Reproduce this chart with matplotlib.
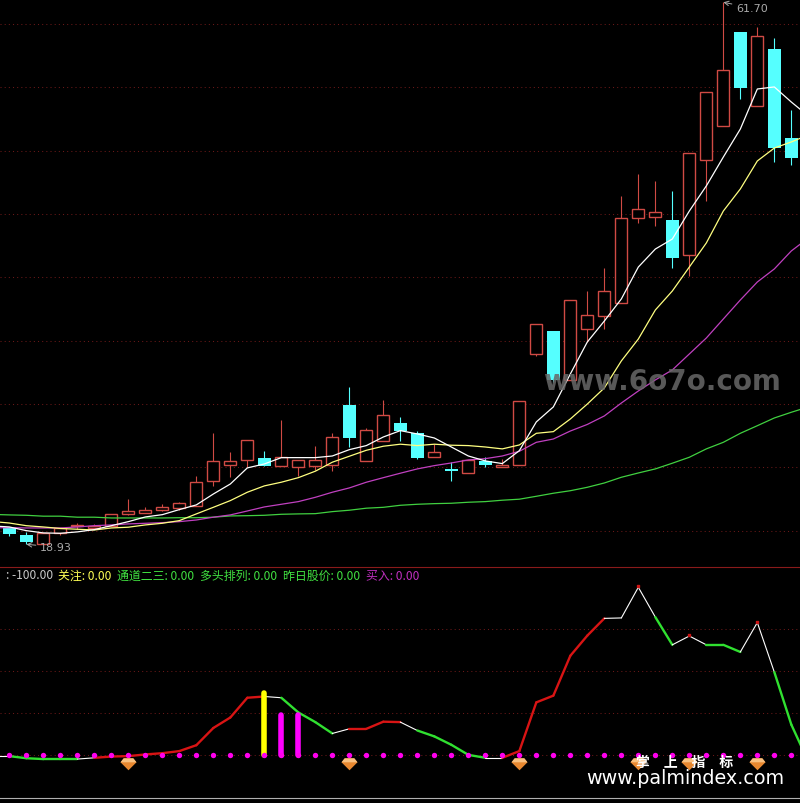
import matplotlib
matplotlib.use("Agg")
import matplotlib.pyplot as plt
from matplotlib.path import Path
import numpy as np

plt.rcParams['font.family'] = ['Noto Sans CJK SC', 'DejaVu Sans']

# daily candles
open_p = [20.22, 19.67, 18.96, 19.80, 20.40, 20.20, 20.38, 21.33, 21.41, 21.64, 21.80, 21.96,
          23.93, 25.19, 25.59, 25.74, 25.11, 25.03, 25.11, 25.19, 29.93, 25.51, 27.09, 28.51,
          27.72, 25.82, 24.88, 24.56, 25.51, 25.03, 25.19, 33.95, 35.77, 31.90, 35.92, 36.95,
          37.97, 44.68, 44.76, 44.52, 41.76, 49.26, 51.94, 59.36, 53.52, 58.01, 50.99]
close_p = [19.75, 19.12, 19.83, 20.20, 20.48, 20.38, 21.33, 21.56, 21.64, 21.88, 22.20, 23.85,
           25.51, 25.51, 27.17, 25.11, 25.82, 25.59, 25.59, 27.40, 27.32, 27.95, 29.14, 27.88,
           25.74, 26.22, 24.72, 25.59, 25.19, 25.19, 30.24, 36.32, 31.90, 38.21, 37.03, 38.92,
           44.68, 45.39, 45.15, 41.52, 49.81, 54.62, 56.36, 54.94, 59.04, 50.20, 49.41]
high_p = [20.30, 19.91, 19.83, 20.20, 20.62, 20.54, 21.33, 22.51, 21.88, 22.12, 22.27, 24.32,
          27.72, 26.22, 27.17, 26.30, 28.74, 25.59, 26.69, 27.72, 31.35, 28.11, 30.32, 28.98,
          27.88, 26.85, 25.43, 25.59, 25.82, 25.67, 30.24, 36.32, 35.77, 38.21, 38.92, 40.74,
          46.42, 48.15, 47.60, 46.81, 49.81, 54.62, 61.70, 59.36, 59.75, 58.88, 53.20]
low_p = [19.59, 18.93, 18.96, 19.67, 20.14, 20.14, 20.38, 21.25, 21.38, 21.56, 21.64, 21.96,
         23.54, 24.25, 25.03, 25.11, 25.11, 24.32, 24.80, 24.72, 26.61, 25.51, 27.09, 27.09,
         25.67, 25.82, 23.93, 24.56, 25.03, 25.03, 25.19, 33.79, 31.74, 31.90, 34.90, 35.92,
         37.97, 44.29, 44.05, 40.74, 40.10, 46.02, 51.94, 54.07, 53.52, 49.10, 48.86]

# moving averages, one value before the first candle and one after the last
ma5 = [20.38, 20.30, 20.01, 19.83, 19.80, 19.91, 20.09, 20.40, 20.72, 21.09, 21.27, 21.67,
       22.04, 22.90, 23.69, 24.96, 25.27, 25.77, 25.77, 25.77, 25.90, 26.40, 26.72, 27.40,
       27.90, 27.64, 27.32, 26.61, 25.90, 25.51, 25.30, 26.32, 28.59, 29.77, 32.37, 34.90,
       36.55, 38.29, 40.81, 42.23, 43.02, 45.23, 47.21, 49.49, 51.70, 54.86, 55.02, 53.83, 52.73]
ma10 = [20.73, 20.61, 20.40, 20.30, 20.18, 20.12, 20.06, 20.22, 20.28, 20.46, 20.59, 20.80,
        21.33, 21.85, 22.38, 23.04, 23.54, 23.83, 24.19, 24.70, 25.41, 25.88, 26.35, 26.67,
        26.83, 26.72, 26.83, 26.75, 26.72, 26.61, 26.46, 26.77, 27.69, 27.82, 28.82, 30.00,
        31.27, 33.40, 35.13, 37.42, 38.92, 40.81, 42.71, 45.23, 46.97, 49.18, 50.20, 50.68, 51.23]
ma20 = [20.22, 20.25, 20.22, 20.22, 20.22, 20.30, 20.40, 20.46, 20.54, 20.59, 20.64, 20.72,
        20.85, 21.07, 21.25, 21.56, 21.88, 22.09, 22.30, 22.64, 23.04, 23.38, 23.83, 24.19,
        24.54, 24.88, 25.14, 25.35, 25.59, 25.69, 25.90, 26.27, 26.98, 27.24, 27.87, 28.39,
        29.06, 30.08, 31.03, 31.90, 32.69, 33.95, 35.21, 36.71, 38.21, 39.63, 40.66, 42.08, 43.10]
ma60 = [21.29, 21.25, 21.22, 21.15, 21.15, 21.07, 21.07, 21.01, 21.01, 21.01, 21.01, 21.03,
        21.03, 21.07, 21.17, 21.19, 21.22, 21.30, 21.33, 21.35, 21.51, 21.62, 21.78, 21.85,
        22.01, 22.09, 22.14, 22.17, 22.25, 22.30, 22.41, 22.49, 22.72, 22.96, 23.16, 23.43,
        23.77, 24.22, 24.56, 24.88, 25.33, 25.80, 26.46, 26.98, 27.69, 28.29, 28.90, 29.35, 29.77]

# lower indicator
cci = [-102, -102, -107, -109, -109, -109, -106, -103, -102, -98, -95, -90, -76, -35, -10, 37,
       40, 37, 2, -21, -48, -37, -37, -20, -21, -41, -55, -75, -99, -106, -106, -90, 26, 42,
       137, 185, 226, 227, 300, 229, 163, 184, 163, 163, 146, 216, 98, -27, -115]
cci_state = "wggggwrrrrrrrrrrwgggwrrrwggggwrrrrrrwwwgwwggwwgg"
focus_idx = [15]
focus_top = [48]
buy_idx = [16, 17]
buy_top = [-3, -3]
gem_idx = [7, 20, 30, 37, 40, 44]
peak_idx = [37, 40, 44]
price_grid = [20, 25, 30, 35, 40, 45, 50, 55, 60]
cci_grid = [-100, 0, 100, 200]

legend_items = [(": -100.00", 6, '#c8c8c8'), ("关注: 0.00", 58, '#ffff55'),
                ("通道二三: 0.00", 117, '#40e040'), ("多头排列: 0.00", 200, '#40e040'),
                ("昨日股价: 0.00", 283, '#40e040'), ("买入: 0.00", 366, '#c030c0')]

W, H = 800, 804
RED = '#d04a44'
CYAN = '#55ffff'
GEM_BODY = Path([(-0.6, 0.65), (0.6, 0.65), (1, 0.15), (0, -0.85), (-1, 0.15), (-0.6, 0.65)])
GEM_TOP = Path([(-0.6, 0.65), (0.6, 0.65), (1, 0.15), (-1, 0.15), (-0.6, 0.65)])


def px(x, y):
    return x / W, 1 - y / H


def style_axes(ax, grid):
    ax.set_facecolor('black')
    ax.set_xlim(-0.549, 46.51)
    ax.set_xticks([])
    ax.set_yticks(grid)
    ax.tick_params(length=0, labelleft=False)
    ax.grid(axis='y', color='#6a1818', linestyle=(0, (1, 3)), linewidth=0.75)
    ax.set_axisbelow(True)
    for s in ax.spines.values():
        s.set_visible(False)


def makeChart():
    fig = plt.figure(figsize=(W / 100, H / 100), dpi=100, facecolor='black')
    top = fig.add_axes([0, 1 - 568 / H, 1, 568 / H])
    bot = fig.add_axes([0, 1 - 799 / H, 1, 231 / H])
    style_axes(top, price_grid)
    style_axes(bot, cci_grid)
    top.set_ylim(17.14, 61.96)
    bot.set_ylim(-201.7, 348.3)
    bot.spines['top'].set_visible(True)
    bot.spines['top'].set_color('#8a1a1a')
    bot.spines['bottom'].set_visible(True)
    bot.spines['bottom'].set_color('#b0b0b0')

    idx = np.arange(len(open_p))
    o, c = np.array(open_p), np.array(close_p)
    lo, hi = np.array(low_p), np.array(high_p)
    up = c >= o
    top.vlines(idx[up], lo[up], hi[up], color=RED, linewidth=0.8, zorder=2)
    top.vlines(idx[~up], lo[~up], hi[~up], color=CYAN, linewidth=0.8, zorder=2)
    top.bar(idx[up], (c - o)[up], bottom=o[up], width=0.72, facecolor='black', edgecolor=RED, linewidth=1.0, zorder=3)
    top.bar(idx[~up], (o - c)[~up], bottom=c[~up], width=0.76, color=CYAN, zorder=3)

    xs = np.arange(-1, len(ma5) - 1)
    for values, col in [(ma60, '#40d040'), (ma20, '#c040c0'), (ma10, '#ffff80'), (ma5, 'white')]:
        top.plot(xs, values, color=col, linewidth=0.9, zorder=4)

    top.annotate(f"{max(high_p):.2f}", xy=(42, max(high_p)), xytext=(736, H - 9), textcoords='figure pixels',
                 color='#aaaaaa', fontsize=8, va='center', family='DejaVu Sans',
                 arrowprops=dict(arrowstyle='->', color='#aaaaaa', linewidth=0.7, shrinkA=1, shrinkB=0))
    top.annotate(f"{min(low_p):.2f}", xy=(1, min(low_p)), xytext=(40, H - 548), textcoords='figure pixels',
                 color='#aaaaaa', fontsize=8, va='center', family='DejaVu Sans',
                 arrowprops=dict(arrowstyle='->', color='#aaaaaa', linewidth=0.7, shrinkA=1, shrinkB=0))

    colors = {'w': 'white', 'r': '#d81414', 'g': '#30e030'}
    widths = {'w': 0.8, 'r': 1.7, 'g': 1.7}
    xs = np.arange(-1, len(cci) - 1)
    for k, st in enumerate(cci_state):
        bot.plot(xs[k:k + 2], cci[k:k + 2], color=colors[st], linewidth=widths[st],
                 solid_capstyle='round', zorder=3)
    bot.scatter(peak_idx, [cci[i + 1] + 2 for i in peak_idx], s=2, color='#cc1414', marker='s', zorder=4)

    base = cci_grid[0]
    bot.vlines(focus_idx, base, focus_top, color='#ffff00', linewidth=4, capstyle='round', zorder=5)
    bot.vlines(buy_idx, base, buy_top, color='#ff00ff', linewidth=4, capstyle='round', zorder=5)
    bot.scatter(idx, [base] * len(idx), s=15, color='#ff00ee', linewidths=0, zorder=5)

    gem_y = [-118] * len(gem_idx)
    bot.scatter(gem_idx, gem_y, s=132, marker=GEM_BODY, color='#e88830', linewidths=0, zorder=6)
    bot.scatter(gem_idx, gem_y, s=132, marker=GEM_TOP, color='#f8c080', linewidths=0, zorder=7)

    for text, x, col in legend_items:
        fx, fy = px(x, 576)
        fig.text(fx, fy, text, color=col, fontsize=8.6, va='center', ha='left')

    fx, fy = px(662, 382)
    fig.text(fx, fy, "www.6o7o.com", color='#686868', alpha=0.85, fontsize=20, fontweight='bold',
             family='DejaVu Sans', ha='center', va='center', zorder=10)
    fx, fy = px(685, 763)
    fig.text(fx, fy, "掌\u3000上\u3000指\u3000标", color='white', fontsize=10, fontweight='bold', ha='center', va='center', zorder=10)
    fx, fy = px(685, 779)
    fig.text(fx, fy, "www.palmindex.com", color='white', fontsize=13.8, family='DejaVu Sans',
             ha='center', va='center', zorder=10)

    fig.savefig("out.png", dpi=100, facecolor='black')


makeChart()
